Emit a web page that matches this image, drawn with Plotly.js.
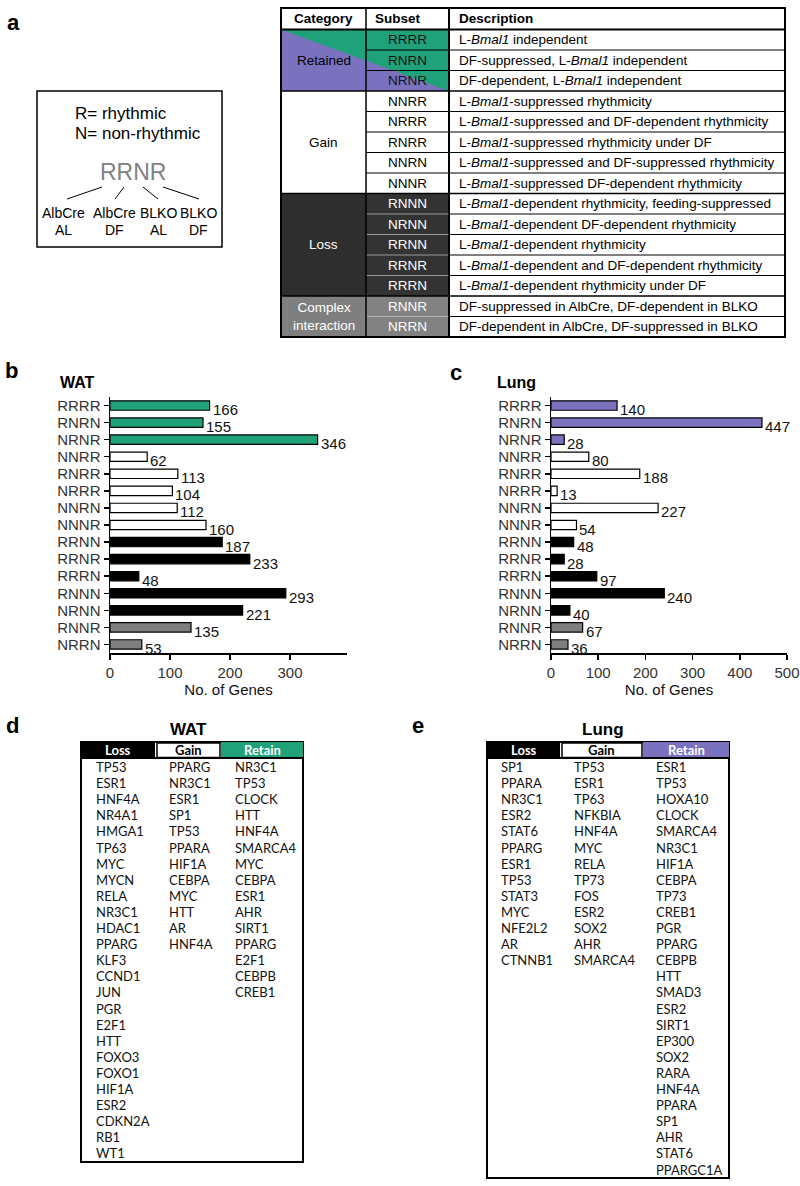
<!DOCTYPE html>
<html>
<head>
<meta charset="utf-8">
<script src="https://cdn.plot.ly/plotly-3.0.1.min.js"></script>
<style>
  body { margin: 0; background: #fff; }
  #fig { width: 800px; height: 1186px; }
</style>
</head>
<body>
<div id="fig"></div>
<script>
// ---- data ----
barCats = ['RRRR','RNRN','NRNR','NNRR','RNRR','NRRR','NNRN','NNNR','RRNN','RRNR','RRRN','RNNN','NRNN','RNNR','NRRN'];
barGroups = ['retain','retain','retain','gain','gain','gain','gain','gain','loss','loss','loss','loss','loss','complex','complex'];
watCounts = [166,155,346,62,113,104,112,160,187,233,48,293,221,135,53];
lungCounts = [140,447,28,80,188,13,227,54,48,28,97,240,40,67,36];
xTicks = [0,100,200,300,400,500];

tableCategories = ['Retained','Gain','Loss','Complex<br>interaction'];
tableSpans = [3,5,5,2];
tableSubsets = ['RRRR','RNRN','NRNR','NNRR','NRRR','RNRR','NNRN','NNNR','RNNN','NRNN','RRNN','RRNR','RRRN','RNNR','NRRN'];
tableDesc = [
  'L-<i>Bmal1</i> independent',
  'DF-suppressed, L-<i>Bmal1</i> independent',
  'DF-dependent, L-<i>Bmal1</i> independent',
  'L-<i>Bmal1</i>-suppressed rhythmicity',
  'L-<i>Bmal1</i>-suppressed and DF-dependent rhythmicity',
  'L-<i>Bmal1</i>-suppressed rhythmicity under DF',
  'L-<i>Bmal1</i>-suppressed and DF-suppressed rhythmicity',
  'L-<i>Bmal1</i>-suppressed DF-dependent rhythmicity',
  'L-<i>Bmal1</i>-dependent rhythmicity, feeding-suppressed',
  'L-<i>Bmal1</i>-dependent DF-dependent rhythmicity',
  'L-<i>Bmal1</i>-dependent rhythmicity',
  'L-<i>Bmal1</i>-dependent and DF-dependent rhythmicity',
  'L-<i>Bmal1</i>-dependent rhythmicity under DF',
  'DF-suppressed in AlbCre, DF-dependent in BLKO',
  'DF-dependent in AlbCre, DF-suppressed in BLKO'
];

watLoss = ['TP53','ESR1','HNF4A','NR4A1','HMGA1','TP63','MYC','MYCN','RELA','NR3C1','HDAC1','PPARG','KLF3','CCND1','JUN','PGR','E2F1','HTT','FOXO3','FOXO1','HIF1A','ESR2','CDKN2A','RB1','WT1'];
watGain = ['PPARG','NR3C1','ESR1','SP1','TP53','PPARA','HIF1A','CEBPA','MYC','HTT','AR','HNF4A'];
watRetain = ['NR3C1','TP53','CLOCK','HTT','HNF4A','SMARCA4','MYC','CEBPA','ESR1','AHR','SIRT1','PPARG','E2F1','CEBPB','CREB1'];
lungLoss = ['SP1','PPARA','NR3C1','ESR2','STAT6','PPARG','ESR1','TP53','STAT3','MYC','NFE2L2','AR','CTNNB1'];
lungGain = ['TP53','ESR1','TP63','NFKBIA','HNF4A','MYC','RELA','TP73','FOS','ESR2','SOX2','AHR','SMARCA4'];
lungRetain = ['ESR1','TP53','HOXA10','CLOCK','SMARCA4','NR3C1','HIF1A','CEBPA','TP73','CREB1','PGR','PPARG','CEBPB','HTT','SMAD3','ESR2','SIRT1','EP300','SOX2','RARA','HNF4A','PPARA','SP1','AHR','STAT6','PPARGC1A'];

// ---- styling ----
GREEN = '#1fa27a';
PURPLE = '#7b72bf';
ARIAL = 'Liberation Sans, Arial, sans-serif';
CALIB = 'Lato, Open Sans, sans-serif';
W = 800; H = 1186;

function px(x) { return x / W; }
function py(y) { return 1 - y / H; }

shapes = [];
annotations = [];

function rect(x0, y0, x1, y1, fill, line, lw) {
  shapes.push({type: 'rect', xref: 'paper', yref: 'paper',
    x0: px(x0), x1: px(x1), y0: py(y0), y1: py(y1),
    fillcolor: fill || 'rgba(0,0,0,0)',
    line: {color: line || 'rgba(0,0,0,0)', width: line ? (lw || 1) : 0}});
}
function seg(x0, y0, x1, y1, color, lw) {
  shapes.push({type: 'line', xref: 'paper', yref: 'paper',
    x0: px(x0), x1: px(x1), y0: py(y0), y1: py(y1),
    line: {color: color || '#000', width: lw || 1}});
}
function txt(x, y, text, size, opt) {
  opt = opt || {};
  annotations.push({xref: 'paper', yref: 'paper', x: px(x), y: py(y), text: text,
    showarrow: false, xanchor: opt.xanchor || 'center', yanchor: 'middle',
    font: {family: opt.family || ARIAL, size: size, color: opt.color || '#000',
      weight: opt.bold ? 'bold' : 'normal'}});
}

// ---- panel a: legend box ----
txt(13, 22, 'a', 22, {bold: true});
rect(37, 91, 222, 247, null, '#000', 1.5);
txt(73, 113, 'R= rhythmic', 17, {xanchor: 'left'});
txt(73, 133, 'N= non-rhythmic', 17, {xanchor: 'left'});
txt(133, 172, 'RRNR', 23, {color: '#808080'});
seg(102, 187, 67, 199); seg(124, 187, 115, 199);
seg(143, 187, 158, 199); seg(163, 187, 199, 199);
['AlbCre','AlbCre','BLKO','BLKO'].forEach(function (s, i) {
  var cx = [63, 115, 158, 198][i];
  txt(cx, 213, s, 14);
  txt(cx, 230, ['AL','DF','AL','DF'][i], 14);
});

// ---- panel a: category table ----
TL = 281; TC1 = 366; TC2 = 449; TR = 785; TT = 8; THB = 29.5; RH = 20.5;
TB = THB + RH * tableSubsets.length;
function rowY(i) { return THB + i * RH; }

catFill = ['', '#ffffff', '#2e2e2e', '#7f7f7f'];
subFill = ['', '#ffffff', '#333333', '#828282'];
subText = ['#111', '#000', '#fff', '#fff'];
subSep = ['#000', '#000', '#9a9a9a', '#b0b0b0'];
start = 0;
tableCategories.forEach(function (c, g) {
  var y0 = rowY(start), y1 = rowY(start + tableSpans[g]);
  if (g === 0) {
    rect(TL, y0, TC2, y1, PURPLE);
    shapes.push({type: 'path', xref: 'paper', yref: 'paper',
      path: 'M ' + px(TL) + ',' + py(y0) + ' L ' + px(TC2) + ',' + py(y0) + ' L ' + px(TC2) + ',' + py(y1) + ' Z',
      fillcolor: GREEN, line: {width: 0}});
  } else {
    rect(TL, y0, TC1, y1, catFill[g]);
    rect(TC1, y0, TC2, y1, subFill[g]);
  }
  txt((TL + TC1) / 2, (y0 + y1) / 2, c, 13.5, {color: g >= 2 ? '#fff' : '#000'});
  for (var k = 0; k < tableSpans[g]; k++) {
    var r = start + k;
    txt((TC1 + TC2) / 2, rowY(r) + RH / 2, tableSubsets[r], 13.5, {color: subText[g]});
    txt(457, rowY(r) + RH / 2, tableDesc[r], 13.5, {xanchor: 'left'});
    if (k > 0) {
      seg(TC1, rowY(r), TC2, rowY(r), subSep[g], 1);
      seg(TC2, rowY(r), TR, rowY(r), '#000', 1);
    }
  }
  if (g > 0) seg(TL, y0, TR, y0, '#000', 1.5);
  start += tableSpans[g];
});
txt((TL + TC1) / 2, (TT + THB) / 2, 'Category', 13.5, {bold: true});
txt(373, (TT + THB) / 2, 'Subset', 13.5, {bold: true, xanchor: 'left'});
txt(457, (TT + THB) / 2, 'Description', 13.5, {bold: true, xanchor: 'left'});
seg(TL, THB, TR, THB, '#000', 2);
seg(TC1, TT, TC1, TB, '#000', 1.5);
seg(TC2, TT, TC2, TB, '#000', 2);
rect(TL, TT, TR, TB, null, '#000', 2);

// ---- panels b, c: bar charts ----
function colorsFor(retainColor) {
  return barGroups.map(function (g) {
    return {retain: retainColor, gain: '#ffffff', loss: '#000000', complex: '#7f7f7f'}[g];
  });
}
function barTrace(vals, retainColor, xa, ya) {
  return {type: 'bar', orientation: 'h', x: vals, y: barCats, xaxis: xa, yaxis: ya,
    width: 0.55, marker: {color: colorsFor(retainColor), line: {color: '#000', width: 1.2}},
    hoverinfo: 'skip', showlegend: false};
}
function valueLabels(vals, xr, yr) {
  vals.forEach(function (v, i) {
    annotations.push({xref: xr, yref: yr, x: v, y: barCats[i], text: String(v),
      showarrow: false, xanchor: 'left', yanchor: 'middle', xshift: 1, yshift: -4,
      font: {family: ARIAL, size: 15, color: '#111'}});
  });
}
valueLabels(watCounts, 'x', 'y');
valueLabels(lungCounts, 'x2', 'y2');

txt(11, 370, 'b', 22, {bold: true});
txt(58, 382, 'WAT', 16, {bold: true, xanchor: 'left'});
txt(456, 372, 'c', 22, {bold: true});
txt(495, 382, 'Lung', 16, {bold: true, xanchor: 'left'});

function xAxis(dom, range, ticks, anchor) {
  return {domain: dom, range: range, anchor: anchor, showline: true, linecolor: '#000', linewidth: 1.5,
    ticks: 'outside', ticklen: 5, tickwidth: 1.5, tickcolor: '#000', tickvals: ticks,
    tickfont: {family: ARIAL, size: 15, color: '#333'}, showgrid: false, zeroline: false,
    title: {text: 'No. of Genes', font: {family: ARIAL, size: 15, color: '#111'}, standoff: 2},
    fixedrange: true};
}
function yAxis(anchor) {
  return {domain: [py(653), py(397)], anchor: anchor, type: 'category',
    categoryorder: 'array', categoryarray: barCats, range: [14.5, -0.5],
    tickmode: 'array', tickvals: barCats, ticktext: barCats,
    showline: true, linecolor: '#000', linewidth: 1.5, ticks: 'outside', ticklen: 5,
    tickwidth: 1.5, tickcolor: '#000', tickfont: {family: ARIAL, size: 15, color: '#333'},
    showgrid: false, zeroline: false, fixedrange: true};
}

// ---- panels d, e: gene lists ----
ROW0 = 767; GRH = 16.1;
function geneTable(label, title, titleX, box, hdr, cols, colX, retainColor) {
  txt(box[0] - 69, 725, label, 22, {bold: true});
  txt(titleX, 729, title, 17, {bold: true});
  rect(box[0], 742, box[1], box[2], '#fff', '#000', 2);
  rect(hdr[0], 742, hdr[1], 758, '#000');
  rect(hdr[1] + 2, 743, hdr[2] - 1, 757.5, '#fff', '#000', 1.5);
  rect(hdr[2], 742, box[1], 758, retainColor);
  seg(box[0], 758, box[1], 758, '#000', 2);
  txt((hdr[0] + hdr[1]) / 2, 750.5, 'Loss', 13, {bold: true, color: '#fff', family: CALIB});
  txt((hdr[1] + hdr[2]) / 2, 750.5, 'Gain', 13, {bold: true, family: CALIB});
  txt((hdr[2] + box[1]) / 2, 750.5, 'Retain', 13, {bold: true, color: '#fff', family: CALIB});
  cols.forEach(function (list, c) {
    list.forEach(function (gname, i) {
      txt(colX[c], ROW0 + i * GRH, gname, 13, {xanchor: 'left', family: CALIB, color: '#111'});
    });
  });
}
geneTable('d', 'WAT', 188, [81, 303, 1162], [81, 155, 221], [watLoss, watGain, watRetain], [94, 167, 233], GREEN);
geneTable('e', 'Lung', 603, [487, 729, 1178], [487, 560, 643], [lungLoss, lungGain, lungRetain], [499, 572, 654], PURPLE);

var data = [
  barTrace(watCounts, GREEN, 'x', 'y'),
  barTrace(lungCounts, PURPLE, 'x2', 'y2')
];

var layout = {
  width: W, height: H,
  margin: {l: 0, r: 0, t: 0, b: 0},
  paper_bgcolor: '#fff', plot_bgcolor: 'rgba(0,0,0,0)',
  bargap: 0.45,
  xaxis: xAxis([px(110), px(347)], [0, 395], xTicks.slice(0, 4), 'y'),
  yaxis: yAxis('x'),
  xaxis2: xAxis([px(551), px(787)], [0, 500], xTicks, 'y2'),
  yaxis2: yAxis('x2'),
  shapes: shapes,
  annotations: annotations
};

Plotly.newPlot('fig', data, layout, {staticPlot: true, displayModeBar: false});
</script>
</body>
</html>
